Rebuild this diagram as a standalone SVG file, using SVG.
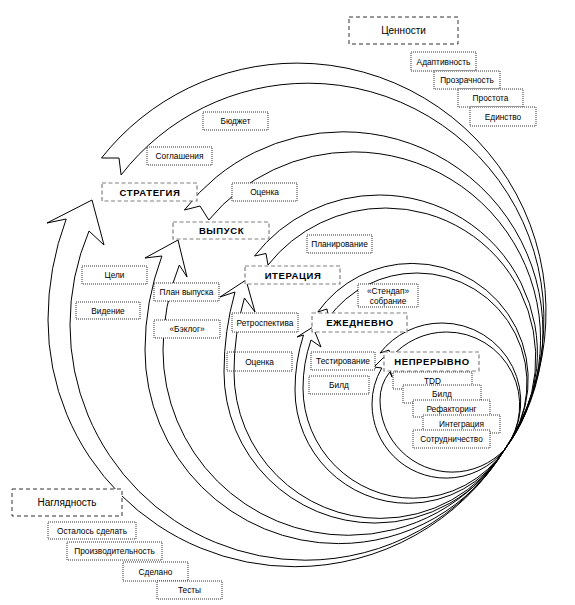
<svg xmlns="http://www.w3.org/2000/svg" width="575" height="605" viewBox="0 0 575 605">
<style>
  .arr{fill:none;stroke:#000;stroke-width:1;stroke-linejoin:miter}
  .dot{fill:#fff;stroke:#333;stroke-width:1;stroke-dasharray:1,1}
  .dotn{fill:none;stroke:#333;stroke-width:1;stroke-dasharray:1,1}
  .lvl{fill:#fff;stroke:#808080;stroke-width:1.2;stroke-dasharray:4,2.5}
  .val{fill:#fff;stroke:#333;stroke-width:1;stroke-dasharray:4,3}
  text{font-family:"Liberation Sans",Arial,sans-serif;fill:#000;text-anchor:middle}
  .s{font-size:8.3px}
  .b{font-size:9.5px;font-weight:bold;letter-spacing:0.6px}
  .v{font-size:10px}
</style>
<rect width="575" height="605" fill="#fff"/>
<g id="connectors">
  <path class="arr" d="M505,449 A249,249 0 0 0 297.1,63.1 A249,249 0 0 0 101.5,158 L119,158 L121.1,175 A236,236 0 0 1 307.9,83.2 A236,236 0 0 1 505,449 Z"/>
  <path class="arr" d="M505,449 A246.7,246.7 0 0 1 294.7,566.7 A246.7,246.7 0 0 1 48,320 A289.3,289.3 0 0 1 66.2,219 L47,223 L92,200 L104,245 L89,231 A242,242 0 0 0 70,325 A235.2,235.2 0 0 0 305.2,560.2 A235.2,235.2 0 0 0 505,449 Z"/>
  <path class="arr" d="M505,449 A200,200 0 0 0 343,131.8 A200,200 0 0 0 184.4,210 L200,206 L208.8,220 A187.3,187.3 0 0 1 353.3,151.9 A187.3,187.3 0 0 1 505,449 Z"/>
  <path class="arr" d="M505,449 A193.6,193.6 0 0 1 338.6,543.6 A193.6,193.6 0 0 1 145,350 A269.9,269.9 0 0 1 161.9,256 L145,258 L178,240 L187,277 L179.3,265 A229.8,229.8 0 0 0 163,350 A185.3,185.3 0 0 0 348.3,535.3 A185.3,185.3 0 0 0 505,449 Z"/>
  <path class="arr" d="M505,449 A158.1,158.1 0 0 0 379.3,195 A158.1,158.1 0 0 0 254.5,256 L266,253.5 L268,265 A150,150 0 0 1 385.75,208 A150,150 0 0 1 505,449 Z"/>
  <path class="arr" d="M505,449 A151.05,151.05 0 0 1 375.05,523.05 A151.05,151.05 0 0 1 224,372 A296.4,296.4 0 0 1 235,292 L220,297 L246,280 L255,312 L244.4,298 A268.5,268.5 0 0 0 234,372 A146.4,146.4 0 0 0 380.4,518.4 A146.4,146.4 0 0 0 505,449 Z"/>
  <path class="arr" d="M505,449 A116,116 0 0 0 412.2,263.4 A116,116 0 0 0 317.8,312 L327,309 L328.3,318 A110,110 0 0 1 417,273 A110,110 0 0 1 505,449 Z"/>
  <path class="arr" d="M505,449 A113.3,113.3 0 0 1 408.3,503.3 A113.3,113.3 0 0 1 295,390 A182,182 0 0 1 303.5,335 L297,337 L313,327 L321,347 L311,340 A148,148 0 0 0 303,388 A110.2,110.2 0 0 0 413.2,498.2 A110.2,110.2 0 0 0 505,449 Z"/>
  <path class="arr" d="M505,449 A78.75,78.75 0 0 0 442,323 A78.75,78.75 0 0 0 380,353 L389,350 L390.6,358 A73.1,73.1 0 0 1 446.5,332 A73.1,73.1 0 0 1 505,449 Z"/>
  <path class="arr" d="M505,449 A74.1,74.1 0 0 1 446.1,478.1 A74.1,74.1 0 0 1 372,404 A71,71 0 0 1 381.8,368 L374,367 L386,355 L392,377 L389.8,372 A44.9,44.9 0 0 0 380,400 A72.1,72.1 0 0 0 452.1,472.1 A72.1,72.1 0 0 0 505,449 Z"/>
</g>
<g id="n-values"><rect class="val" x="349" y="17" width="109" height="27"/><text class="v" x="403.5" y="34">Ценности</text></g>
<g id="n-adapt"><rect class="dot" x="411" y="52" width="65" height="19"/><text class="s" x="443.5" y="64.5">Адаптивность</text></g>
<g id="n-transp"><rect class="dot" x="434" y="71" width="66" height="18"/><text class="s" x="467" y="83">Прозрачность</text></g>
<g id="n-simple"><rect class="dot" x="458" y="89" width="65" height="18"/><text class="s" x="490.5" y="101">Простота</text></g>
<g id="n-unity"><rect class="dot" x="470" y="107" width="66" height="19"/><text class="s" x="503" y="119.5">Единство</text></g>
<g id="n-budget"><rect class="dot" x="203" y="112" width="65" height="18"/><text class="s" x="235.5" y="124">Бюджет</text></g>
<g id="n-agree"><rect class="dot" x="147" y="147" width="65" height="18"/><text class="s" x="179.5" y="159">Соглашения</text></g>
<g id="n-strategy"><rect class="lvl" x="102" y="183" width="95" height="18"/><text class="b" x="150" y="195.5">СТРАТЕГИЯ</text></g>
<g id="n-est1"><rect class="dot" x="232" y="183" width="65" height="18"/><text class="s" x="264.5" y="195">Оценка</text></g>
<g id="n-release"><rect class="lvl" x="173" y="222" width="96" height="17"/><text class="b" x="221.5" y="234">ВЫПУСК</text></g>
<g id="n-plan"><rect class="dot" x="307" y="235" width="65" height="18"/><text class="s" x="339.5" y="247">Планирование</text></g>
<g id="n-goals"><rect class="dot" x="82" y="266" width="65" height="18"/><text class="s" x="114.5" y="278">Цели</text></g>
<g id="n-iteration"><rect class="lvl" x="245" y="266" width="95" height="18"/><text class="b" x="293" y="278.5">ИТЕРАЦИЯ</text></g>
<g id="n-relplan"><rect class="dot" x="154" y="283" width="65" height="18"/><text class="s" x="186.5" y="295">План выпуска</text></g>
<g id="n-standup"><rect class="dot" x="358" y="284" width="60" height="23"/><text class="s" x="388" y="294">«Стендап»</text><text class="s" x="388" y="304">собрание</text></g>
<g id="n-vision"><rect class="dot" x="76" y="302" width="64" height="17"/><text class="s" x="108" y="313.5">Видение</text></g>
<g id="n-retro"><rect class="dot" x="232" y="313" width="66" height="19"/><text class="s" x="265" y="325.5">Ретроспектива</text></g>
<g id="n-daily"><rect class="lvl" x="312" y="313" width="95" height="19"/><text class="b" x="360" y="326">ЕЖЕДНЕВНО</text></g>
<g id="n-backlog"><rect class="dot" x="154" y="320" width="66" height="18"/><text class="s" x="187" y="332">«Бэклог»</text></g>
<g id="n-est2"><rect class="dotn" x="227" y="352" width="65" height="19"/><text class="s" x="259.5" y="364.5">Оценка</text></g>
<g id="n-testing"><rect class="dot" x="311" y="352" width="64" height="18"/><text class="s" x="343" y="364">Тестирование</text></g>
<g id="n-continuous"><rect class="lvl" x="384" y="352" width="95" height="19"/><text class="b" x="432" y="365">НЕПРЕРЫВНО</text></g>
<g id="n-build1"><rect class="dot" x="309" y="376" width="60" height="18"/><text class="s" x="339" y="388">Билд</text></g>
<g id="n-tdd"><rect class="dot" x="393" y="372" width="79" height="17"/><text class="s" x="432.5" y="383.5">TDD</text></g>
<g id="n-build2"><rect class="dot" x="403" y="385" width="78" height="18"/><text class="s" x="442" y="397">Билд</text></g>
<g id="n-refactor"><rect class="dot" x="413" y="400" width="77" height="17"/><text class="s" x="451.5" y="411.5">Рефакторинг</text></g>
<g id="n-integr"><rect class="dot" x="423" y="415" width="77" height="18"/><text class="s" x="461.5" y="427">Интеграция</text></g>
<g id="n-collab"><rect class="dot" x="413" y="430" width="77" height="18"/><text class="s" x="451.5" y="442">Сотрудничество</text></g>
<g id="n-visibility"><rect class="val" x="12" y="489" width="110" height="27"/><text class="v" x="67" y="506">Наглядность</text></g>
<g id="n-todo"><rect class="dot" x="48" y="522" width="88" height="17"/><text class="s" x="92" y="533.5">Осталось сделать</text></g>
<g id="n-perf"><rect class="dot" x="67" y="542" width="95" height="18"/><text class="s" x="114.5" y="554">Производительность</text></g>
<g id="n-done"><rect class="dot" x="123" y="562" width="65" height="19"/><text class="s" x="155.5" y="574.5">Сделано</text></g>
<g id="n-tests"><rect class="dot" x="157" y="581" width="65" height="18"/><text class="s" x="189.5" y="593">Тесты</text></g>
</svg>
